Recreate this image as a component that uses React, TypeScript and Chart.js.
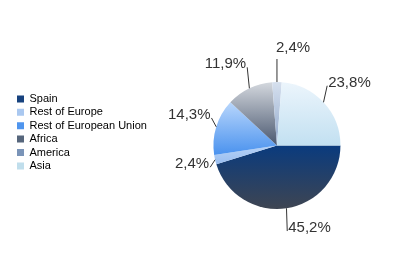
import React, { useEffect, useRef } from "react";
import { Chart, registerables } from "chart.js";

Chart.register(...registerables);

// Share of total, by region (%)
const regions = ["Spain", "Rest of Europe", "Rest of European Union", "Africa", "America", "Asia"];
const shares = [45.2, 2.4, 14.3, 11.9, 2.4, 23.8];

// Flat swatch colours for the legend
const swatchColors = ["#17427e", "#aac8f0", "#4f95ee", "#56667c", "#7a94b8", "#c0deec"];
// Vertical shading of each slice: top colour, bottom colour
const shadeTop = ["#0a3b7e", "#b6d2f6", "#b8d6fc", "#d4d8de", "#d6e0ee", "#ecf5fc"];
const shadeBottom = ["#3e4552", "#98bdf0", "#4a92ee", "#4a5870", "#90a8cc", "#c2e0f1"];

const PIE_RADIUS = 63.5;
const ROTATION_DEG = 90;
const FONT = "'Liberation Sans', Arial, sans-serif";

function sliceAngles(index: number) {
  const total = shares.reduce((a, b) => a + b, 0);
  let before = 0;
  for (let i = 0; i < index; i++) before += shares[i];
  const start = ((ROTATION_DEG - 90) * Math.PI) / 180 + (before / total) * Math.PI * 2;
  const end = start + (shares[index] / total) * Math.PI * 2;
  return { start, end };
}

function sliceShade(context: any) {
  const chart = context.chart;
  const area = chart.chartArea;
  const i = context.dataIndex;
  if (!area || i === undefined) return swatchColors[i ?? 0];
  const cy = (area.top + area.bottom) / 2;
  const { start, end } = sliceAngles(i);
  let yMin = 0;
  let yMax = 0;
  const probe = (a: number) => {
    const y = Math.sin(a);
    yMin = Math.min(yMin, y);
    yMax = Math.max(yMax, y);
  };
  probe(start);
  probe(end);
  for (let k = -4; k <= 8; k++) {
    const a = Math.PI / 2 + k * Math.PI;
    if (a > start && a < end) probe(a);
  }
  const g = chart.ctx.createLinearGradient(0, cy + yMin * PIE_RADIUS, 0, cy + yMax * PIE_RADIUS);
  g.addColorStop(0, shadeTop[i]);
  g.addColorStop(1, shadeBottom[i]);
  return g;
}

const formatShare = (v: number) => v.toFixed(1).replace(".", ",") + "%";

// Percentage labels outside the pie with short leader lines
const leaderLabels = {
  id: "leaderLabels",
  afterDatasetsDraw(chart: any) {
    const ctx = chart.ctx;
    const meta = chart.getDatasetMeta(0);
    ctx.save();
    ctx.font = `15px ${FONT}`;
    ctx.fillStyle = "#333333";
    ctx.strokeStyle = "#333333";
    ctx.lineWidth = 1;
    meta.data.forEach((arc: any, i: number) => {
      const mid = (arc.startAngle + arc.endAngle) / 2;
      const ux = Math.cos(mid);
      const uy = Math.sin(mid);
      const px = arc.x + ux * arc.outerRadius;
      const py = arc.y + uy * arc.outerRadius;
      const ex = px + ux * 5;
      const ey = py + uy * 20 + Math.sign(uy) * 3;
      ctx.beginPath();
      ctx.moveTo(px, py);
      ctx.lineTo(ex, ey);
      ctx.stroke();
      const text = formatShare(shares[i]);
      ctx.textBaseline = "alphabetic";
      if (Math.abs(ux) < 0.15 && uy < 0) {
        ctx.textAlign = "left";
        ctx.fillText(text, ex - 1, ey - 7);
      } else if (ux > -0.1) {
        ctx.textAlign = "left";
        ctx.fillText(text, ex + 1, ey + 1);
      } else {
        ctx.textAlign = "right";
        ctx.fillText(text, ex - 1, ey + 1);
      }
    });
    ctx.restore();
  },
};

export default function App() {
  const canvasRef = useRef<HTMLCanvasElement | null>(null);

  useEffect(() => {
    if (!canvasRef.current) return;
    const chart = new Chart(canvasRef.current, {
      type: "pie",
      data: {
        labels: regions,
        datasets: [
          {
            data: shares,
            backgroundColor: sliceShade,
            borderWidth: 0,
            radius: PIE_RADIUS,
            clip: false,
          } as any,
        ],
      },
      options: {
        responsive: false,
        animation: false,
        events: [],
        rotation: ROTATION_DEG,
        layout: { padding: { top: 91, bottom: 73, left: 14.6, right: 1 } },
        plugins: {
          tooltip: { enabled: false },
          legend: {
            position: "left",
            align: "start",
            labels: {
              boxWidth: 7,
              boxHeight: 7,
              padding: 2.4,
              color: "#333333",
              font: { family: FONT, size: 11, lineHeight: 1.22 },
              generateLabels: () =>
                regions.map((r, i) => ({
                  text: r,
                  fillStyle: swatchColors[i],
                  strokeStyle: swatchColors[i],
                  lineWidth: 0,
                  hidden: false,
                  index: i,
                })),
            },
          },
        },
      },
      plugins: [leaderLabels],
    });
    return () => chart.destroy();
  }, []);

  return (
    <div style={{ position: "fixed", left: 0, top: 0, width: 398, height: 273, background: "#ffffff" }}>
      <canvas ref={canvasRef} width={398} height={273} />
    </div>
  );
}
